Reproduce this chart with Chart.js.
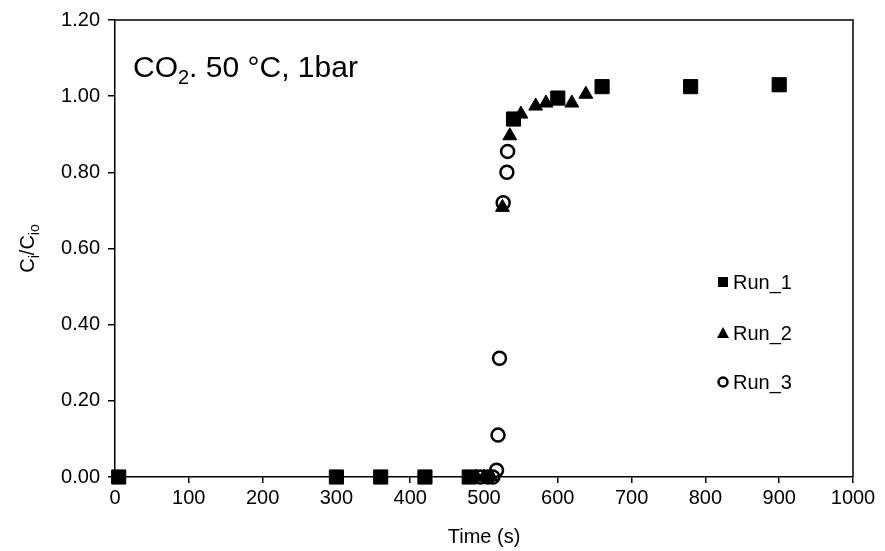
<!DOCTYPE html>
<html>
<head>
<meta charset="utf-8">
<script src="https://cdn.jsdelivr.net/npm/chart.js@4.4.1/dist/chart.umd.min.js"></script>
<style>
  html, body { margin: 0; padding: 0; background: #fff; }
  #wrap { width: 885px; height: 551px; position: relative; }
</style>
</head>
<body>
<div id="wrap"><canvas id="myChart"></canvas></div>
<script>
// valeurs
var run1Time  = [5, 300, 360, 420, 480, 540, 600, 660, 780, 900];
var run1Ratio = [0, 0, 0, 0, 0, 0.94, 0.995, 1.025, 1.025, 1.03];

var run2Time  = [490, 500, 510, 525, 535, 550, 570, 584, 619, 638];
var run2Ratio = [0, 0, 0, 0.708, 0.896, 0.953, 0.974, 0.982, 0.982, 1.005];

var run3Time  = [495, 505, 512, 517, 519, 521, 526, 531, 532];
var run3Ratio = [0, 0, 0, 0.018, 0.11, 0.312, 0.72, 0.80, 0.855];

var xTicks = [0, 100, 200, 300, 400, 500, 600, 700, 800, 900, 1000];
var yTicks = [0, 0.2, 0.4, 0.6, 0.8, 1.0, 1.2];
var seriesNames = ["Run_1", "Run_2", "Run_3"];

function points(xs, ys) {
    return xs.map(function(x, i) { return { x: x, y: ys[i] }; });
}

var police = "'Liberation Sans', Arial, sans-serif";

// cadre, titre, axes et legende dessines a la main
var decor = {
    id: 'decor',
    afterDraw: function(chart) {
        var ctx = chart.ctx;
        var a = chart.chartArea;
        ctx.save();

        // cadre complet
        ctx.strokeStyle = '#000';
        ctx.lineWidth = 1.5;
        ctx.beginPath();
        ctx.moveTo(a.left, a.top);
        ctx.lineTo(a.right, a.top);
        ctx.lineTo(a.right, a.bottom);
        ctx.stroke();

        ctx.fillStyle = '#000';
        ctx.textBaseline = 'alphabetic';

        // titre CO2
        var x = 133, y = 77;
        ctx.font = '30px ' + police;
        ctx.textAlign = 'left';
        ctx.fillText('CO', x, y);
        x += ctx.measureText('CO').width;
        ctx.font = '20px ' + police;
        ctx.fillText('2', x, y + 7);
        x += ctx.measureText('2').width;
        ctx.font = '30px ' + police;
        ctx.fillText('. 50 \u00B0C, 1bar', x, y);

        // titre axe x
        ctx.font = '20px ' + police;
        ctx.textAlign = 'center';
        ctx.fillText('Time (s)', (a.left + a.right) / 2, 543);

        // titre axe y
        ctx.save();
        ctx.translate(34, (a.top + a.bottom) / 2);
        ctx.rotate(-Math.PI / 2);
        var parts = [['C', 20, 0], ['i', 14, 5], ['/C', 20, 0], ['io', 14, 5]];
        var total = 0;
        parts.forEach(function(p) {
            ctx.font = p[1] + 'px ' + police;
            total += ctx.measureText(p[0]).width;
        });
        var px = -total / 2;
        ctx.textAlign = 'left';
        parts.forEach(function(p) {
            ctx.font = p[1] + 'px ' + police;
            ctx.fillText(p[0], px, p[2]);
            px += ctx.measureText(p[0]).width;
        });
        ctx.restore();

        // legende
        var lx = 723;
        var ly = [282, 333, 382];
        ctx.font = '20px ' + police;
        ctx.textAlign = 'left';
        ctx.textBaseline = 'middle';
        seriesNames.forEach(function(nom, i) {
            var cy = ly[i];
            ctx.fillStyle = '#000';
            ctx.strokeStyle = '#000';
            if (i == 0) {
                ctx.fillRect(lx - 5, cy - 5, 10, 10);
            } else if (i == 1) {
                ctx.beginPath();
                ctx.moveTo(lx, cy - 6);
                ctx.lineTo(lx + 6, cy + 5);
                ctx.lineTo(lx - 6, cy + 5);
                ctx.closePath();
                ctx.fill();
            } else {
                ctx.lineWidth = 2.5;
                ctx.beginPath();
                ctx.arc(lx, cy, 4.5, 0, Math.PI * 2);
                ctx.stroke();
            }
            ctx.fillText(nom, lx + 10, cy + 1);
        });

        ctx.restore();
    }
};

var ctx = document.getElementById("myChart").getContext("2d");
var myChart = new Chart(ctx, {
    type: "scatter",
    data: {
        datasets: [
            {
                label: seriesNames[0],
                data: points(run1Time, run1Ratio),
                pointStyle: 'rect',
                pointRadius: 10,
                backgroundColor: '#000',
                borderColor: '#000',
                borderWidth: 1,
                clip: false,
                order: 3
            },
            {
                label: seriesNames[1],
                data: points(run2Time, run2Ratio),
                pointStyle: 'triangle',
                pointRadius: 8,
                backgroundColor: '#000',
                borderColor: '#000',
                borderWidth: 1,
                clip: false,
                order: 2
            },
            {
                label: seriesNames[2],
                data: points(run3Time, run3Ratio),
                pointStyle: 'circle',
                pointRadius: 6.5,
                backgroundColor: 'rgba(0,0,0,0)',
                borderColor: '#000',
                borderWidth: 2.5,
                clip: false,
                order: 1
            }
        ]
    },
    options: {
        responsive: true,
        maintainAspectRatio: false,
        animation: false,
        layout: { padding: { left: 15, right: 32, top: 16, bottom: 24 } },
        plugins: {
            legend: { display: false },
            tooltip: { enabled: false }
        },
        scales: {
            x: {
                type: 'linear',
                min: 0,
                max: 1000,
                afterFit: function(s) { s.height = 50; },
                afterBuildTicks: function(s) { s.ticks = xTicks.map(function(v) { return { value: v }; }); },
                ticks: {
                    color: '#000',
                    font: { family: police, size: 20 },
                    padding: 3,
                    maxRotation: 0,
                    callback: function(v) { return v; }
                },
                grid: { drawOnChartArea: false, drawTicks: true, tickLength: 6, color: '#000', lineWidth: 1.5 },
                border: { display: true, color: '#000', width: 1.5 }
            },
            y: {
                type: 'linear',
                min: 0,
                max: 1.2,
                afterFit: function(s) { s.width = 100; },
                afterBuildTicks: function(s) { s.ticks = yTicks.map(function(v) { return { value: v }; }); },
                ticks: {
                    color: '#000',
                    font: { family: police, size: 20 },
                    padding: 8,
                    callback: function(v) { return Number(v).toFixed(2); }
                },
                grid: { drawOnChartArea: false, drawTicks: true, tickLength: 7, color: '#000', lineWidth: 1.5 },
                border: { display: true, color: '#000', width: 1.5 }
            }
        }
    },
    plugins: [decor]
});
</script>
</body>
</html>
